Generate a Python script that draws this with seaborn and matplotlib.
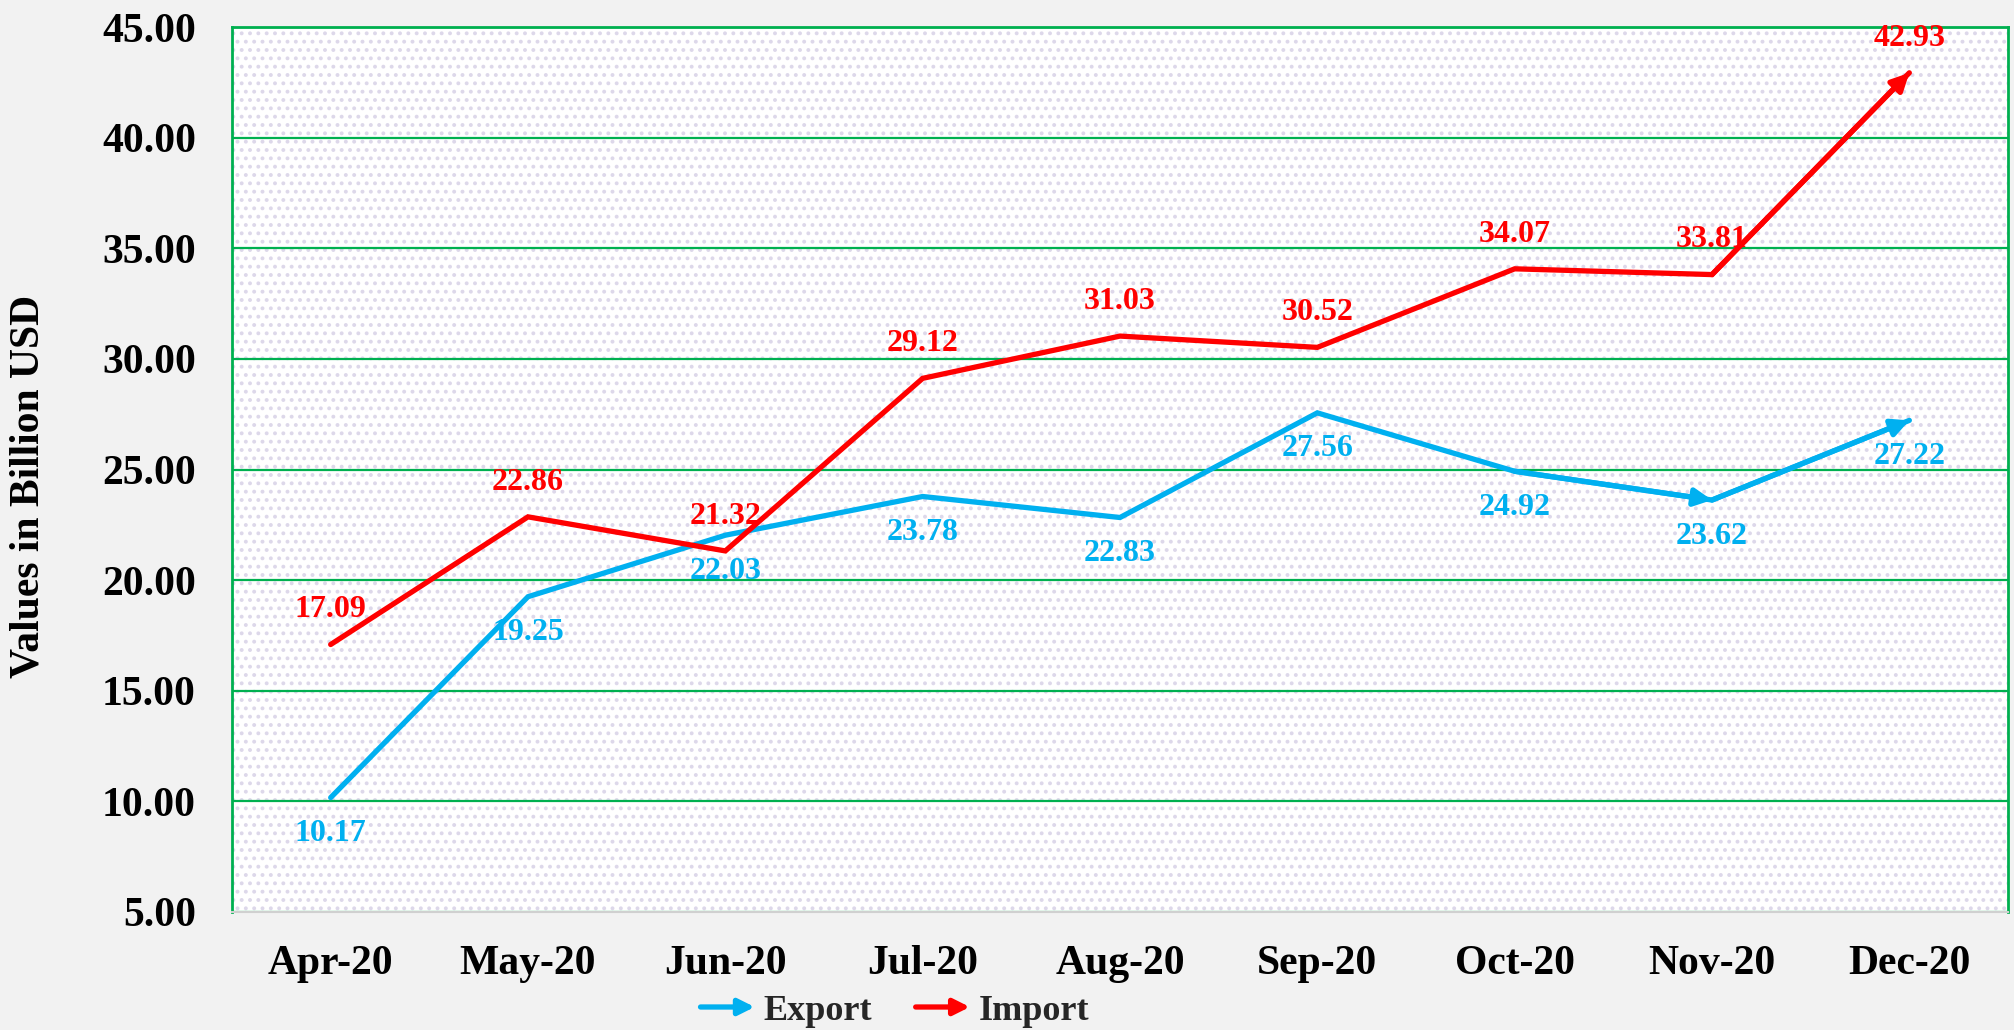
import matplotlib
matplotlib.use("Agg")
import matplotlib.pyplot as plt
import seaborn as sns
import pandas as pd
from matplotlib.lines import Line2D
from matplotlib.patches import FancyArrowPatch
from matplotlib.legend_handler import HandlerBase

months = ["Apr-20", "May-20", "Jun-20", "Jul-20", "Aug-20", "Sep-20", "Oct-20", "Nov-20", "Dec-20"]
export_vals = [10.17, 19.25, 22.03, 23.78, 22.83, 27.56, 24.92, 23.62, 27.22]
import_vals = [17.09, 22.86, 21.32, 29.12, 31.03, 30.52, 34.07, 33.81, 42.93]
series_names = ["Export", "Import"]
y_ticks = [5, 10, 15, 20, 25, 30, 35, 40, 45]

EXP_C = "#00B0F0"
IMP_C = "#FF0000"
GRID_C = "#00B050"

sns.set_theme(style="white")
plt.rcParams["font.family"] = ["Liberation Serif", "DejaVu Serif"]
plt.rcParams["font.weight"] = "bold"
plt.rcParams["hatch.color"] = "#DDD8EA"
plt.rcParams["hatch.linewidth"] = 1.6

df = pd.DataFrame({
    "month": months * 2,
    "value": export_vals + import_vals,
    "series": [series_names[0]] * len(months) + [series_names[1]] * len(months),
})

fig = plt.figure(figsize=(20.15, 10.30), dpi=100, facecolor="#F2F2F2")
ax = fig.add_axes([232 / 2015, 1 - 912 / 1030, (2008 - 232) / 2015, (912 - 27) / 1030])
ax.set_facecolor("white")
ax.patch.set_hatch("..")
ax.patch.set_edgecolor("#DDD8EA")

palette = {"Export": EXP_C, "Import": IMP_C}
sns.lineplot(data=df, x="month", y="value", hue="series", palette=palette,
             sort=False, linewidth=3.8, legend=False, ax=ax, zorder=3)
for ln in ax.get_lines():
    ln.set_solid_capstyle("round")
    ln.set_solid_joinstyle("miter")

ax.set_ylim(5, 45)
ax.set_xlim(-0.5, len(months) - 0.5)
ax.set_yticks(y_ticks)
ax.set_yticklabels([f"{t:.2f}" for t in y_ticks])
ax.yaxis.grid(True, color=GRID_C, linewidth=1.6, zorder=1)
ax.set_axisbelow(True)
ax.tick_params(axis="y", length=0, pad=26, labelsize=30)
ax.tick_params(axis="x", length=0, pad=24, labelsize=30)
for lab in ax.get_xticklabels() + ax.get_yticklabels():
    lab.set_fontweight("bold")
    lab.set_color("black")
ax.set_xlabel("")
ax.set_ylabel("")

for side in ["top", "left", "right"]:
    ax.spines[side].set_color(GRID_C)
    ax.spines[side].set_linewidth(2.0)
ax.spines["bottom"].set_color("#D0D0D0")
ax.spines["bottom"].set_linewidth(1.5)

# arrowheads
def arrowhead(i, vals, color):
    ax.annotate("", xy=(i, vals[i]), xytext=(i - 1, vals[i - 1]),
                arrowprops=dict(arrowstyle="-|>", color=color, lw=3.8,
                                mutation_scale=26, shrinkA=0, shrinkB=0),
                zorder=4)

arrowhead(7, export_vals, EXP_C)
arrowhead(8, export_vals, EXP_C)
arrowhead(8, import_vals, IMP_C)

# data labels
for i, v in enumerate(export_vals):
    ax.annotate(f"{v:.2f}", xy=(i, v), xytext=(0, -26), textcoords="offset points",
                ha="center", va="center", color=EXP_C, fontsize=23, fontweight="bold", zorder=5)
for i, v in enumerate(import_vals):
    ax.annotate(f"{v:.2f}", xy=(i, v), xytext=(0, 25), textcoords="offset points",
                ha="center", va="center", color=IMP_C, fontsize=23, fontweight="bold", zorder=5)

fig.text(29 / 2015, 1 - 486 / 1030, "Values in Billion USD", rotation=90,
         ha="center", va="center", fontsize=30, fontweight="bold", color="black")


class ArrowHandler(HandlerBase):
    def create_artists(self, legend, orig_handle, xdescent, ydescent, width, height, fontsize, trans):
        y = height / 2 - ydescent
        arr = FancyArrowPatch((-xdescent, y), (width - xdescent, y), arrowstyle="-|>",
                              mutation_scale=24, color=orig_handle.get_color(), lw=3.8,
                              shrinkA=0, shrinkB=0, capstyle="round", transform=trans)
        return [arr]


handles = [Line2D([], [], color=EXP_C), Line2D([], [], color=IMP_C)]
fig.legend(handles, series_names, handler_map={Line2D: ArrowHandler()},
           loc="center", bbox_to_anchor=(895 / 2015, 1 - 1011 / 1030), ncol=2,
           frameon=False, prop={"family": "Liberation Serif", "weight": "bold", "size": 26},
           handlelength=1.5, handletextpad=0.25, columnspacing=1.2, borderpad=0)

fig.savefig("out.png", dpi=100, facecolor=fig.get_facecolor())
